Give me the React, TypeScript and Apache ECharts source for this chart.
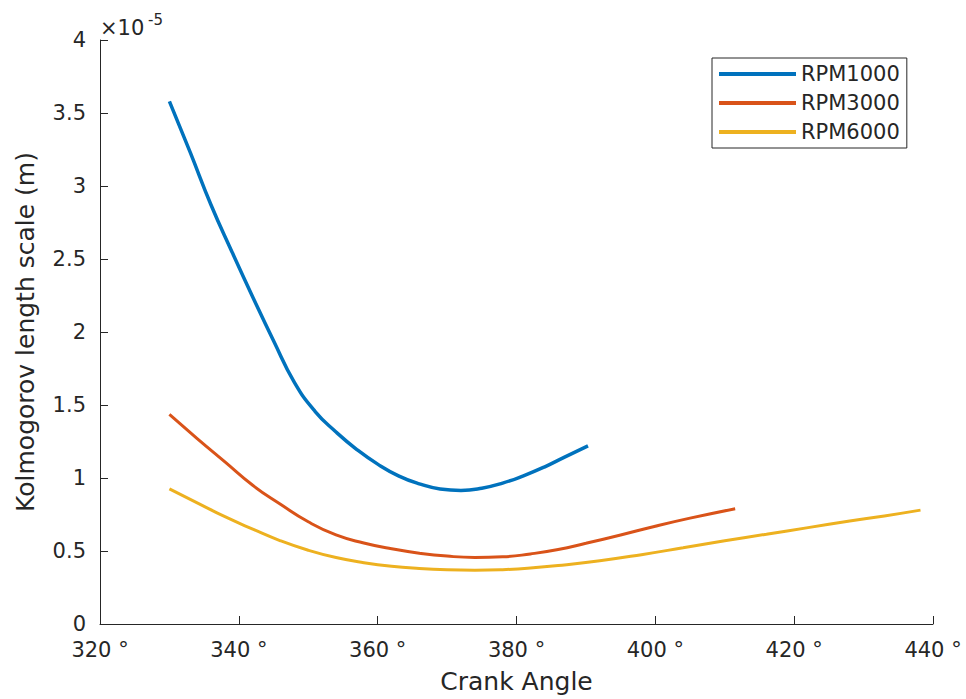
import React, { useEffect, useRef } from "react";
import * as echarts from "echarts";

// Crank angle (degrees) and Kolmogorov length scale (×10^-5 m)
const rpm1000Angle = [330, 333, 336, 339, 342, 345, 348, 351, 354, 357, 360, 363, 366, 369, 372, 375, 378, 381, 384, 387, 390.3];
const rpm1000Value = [3.58, 3.23, 2.87, 2.55, 2.24, 1.94, 1.655, 1.455, 1.315, 1.195, 1.095, 1.015, 0.96, 0.925, 0.915, 0.93, 0.965, 1.015, 1.075, 1.145, 1.22];

const rpm3000Angle = [330, 334, 338, 342, 346, 350, 354, 358, 362, 366, 370, 374, 378, 382, 386, 390, 395, 400, 405, 411.5];
const rpm3000Value = [1.435, 1.27, 1.11, 0.95, 0.82, 0.7, 0.61, 0.555, 0.515, 0.485, 0.465, 0.456, 0.46, 0.48, 0.51, 0.553, 0.61, 0.67, 0.725, 0.79];

const rpm6000Angle = [330, 334, 338, 342, 346, 350, 354, 358, 362, 366, 370, 374, 378, 382, 386, 392, 398, 404, 410, 416, 422, 428, 433, 438.2];
const rpm6000Value = [0.925, 0.83, 0.735, 0.65, 0.57, 0.505, 0.455, 0.42, 0.395, 0.38, 0.371, 0.368, 0.372, 0.383, 0.4, 0.433, 0.475, 0.522, 0.57, 0.615, 0.66, 0.705, 0.74, 0.78];

const seriesNames = ["RPM1000", "RPM3000", "RPM6000"];
const seriesColors = ["#0072BD", "#D95319", "#EDB120"];

const xMin = 320;
const xMax = 440;
const xStep = 20;
const yMin = 0;
const yMax = 4;
const yStep = 0.5;

const FONT = "DejaVu Sans";
const TEXT = "#262626";

function pairs(xs: number[], ys: number[]) {
  return xs.map((x, i) => [x, ys[i]]);
}

export default function App() {
  const ref = useRef<HTMLDivElement>(null);

  useEffect(() => {
    if (!ref.current) return;
    const chart = echarts.init(ref.current, undefined, { renderer: "svg" });
    const data = [
      pairs(rpm1000Angle, rpm1000Value),
      pairs(rpm3000Angle, rpm3000Value),
      pairs(rpm6000Angle, rpm6000Value),
    ];
    chart.setOption({
      animation: false,
      backgroundColor: "#ffffff",
      textStyle: { fontFamily: FONT, color: TEXT },
      grid: { left: 100, right: 33, top: 40, bottom: 71, containLabel: false },
      xAxis: {
        type: "value",
        min: xMin,
        max: xMax,
        interval: xStep,
        name: "Crank Angle",
        nameLocation: "middle",
        nameGap: 45,
        nameTextStyle: { fontFamily: FONT, fontSize: 25, color: TEXT },
        axisLine: { show: true, lineStyle: { color: TEXT, width: 1 } },
        axisTick: { show: true, inside: true, length: 8, lineStyle: { color: TEXT } },
        axisLabel: {
          fontFamily: FONT,
          fontSize: 21,
          color: TEXT,
          margin: 15,
          formatter: (v: number) => `${v} °`,
        },
        splitLine: { show: false },
      },
      yAxis: {
        type: "value",
        min: yMin,
        max: yMax,
        interval: yStep,
        name: "Kolmogorov length scale (m)",
        nameLocation: "middle",
        nameRotate: 90,
        nameGap: 62,
        nameTextStyle: { fontFamily: FONT, fontSize: 25, color: TEXT },
        axisLine: { show: true, lineStyle: { color: TEXT, width: 1 } },
        axisTick: { show: true, inside: true, length: 8, lineStyle: { color: TEXT } },
        axisLabel: { fontFamily: FONT, fontSize: 21, color: TEXT, margin: 14 },
        splitLine: { show: false },
      },
      legend: {
        orient: "vertical",
        left: 712,
        top: 58,
        padding: [4, 7, 4, 7],
        itemGap: 5,
        itemWidth: 77,
        itemHeight: 4,
        icon: "rect",
        borderColor: TEXT,
        borderWidth: 1,
        backgroundColor: "#ffffff",
        textStyle: { fontFamily: FONT, fontSize: 21, color: TEXT, lineHeight: 24 },
        data: seriesNames,
      },
      graphic: [
        {
          type: "text",
          left: 100,
          top: 17,
          style: { text: "×10", font: `21px "${FONT}"`, fill: TEXT },
        },
        {
          type: "text",
          left: 148,
          top: 12,
          style: { text: "-5", font: `15px "${FONT}"`, fill: TEXT },
        },
      ],
      series: data.map((d, i) => ({
        name: seriesNames[i],
        type: "line",
        data: d,
        smooth: 0.5,
        showSymbol: false,
        symbol: "none",
        color: seriesColors[i],
        lineStyle: { color: seriesColors[i], width: i === 0 ? 3.5 : 3 },
      })),
    });
    return () => chart.dispose();
  }, []);

  return (
    <div
      ref={ref}
      style={{ position: "absolute", left: 0, top: 0, width: 966, height: 699 }}
    />
  );
}
